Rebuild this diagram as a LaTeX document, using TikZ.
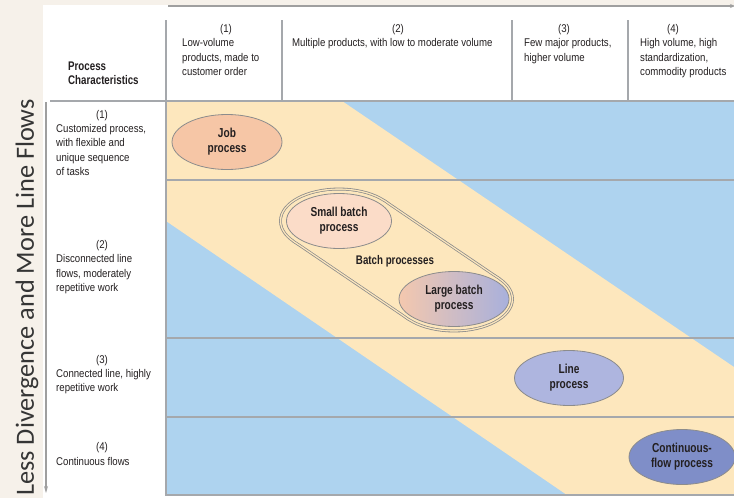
\documentclass[tikz,border=0pt]{standalone}
\usepackage{fontspec}
\setmainfont{Liberation Sans}
\newfontfamily\cnd[FakeStretch=0.86]{Liberation Sans}
\newfontfamily\cndb[FakeStretch=0.78]{Liberation Sans}
\newfontfamily\sidefont{Carlito}
\usetikzlibrary{shapes.geometric,arrows.meta}

\definecolor{paper}{HTML}{F6F1EA}
\definecolor{bandblue}{HTML}{AED3EF}
\definecolor{bandcream}{HTML}{FDE7BD}
\definecolor{gridgray}{HTML}{A5A8AC}
\definecolor{ink}{HTML}{231F20}
\definecolor{rimgray}{HTML}{8C8C8C}
\definecolor{jobfill}{HTML}{F6C6A6}
\definecolor{smallfill}{HTML}{FBDCC8}
\definecolor{largeL}{HTML}{F4C8AE}
\definecolor{largeR}{HTML}{A8B0DC}
\definecolor{linefill}{HTML}{AEB5DF}
\definecolor{contfill}{HTML}{7F8EC8}
\definecolor{sideink}{HTML}{353535}

% the three pieces whose union is the batch enclosure
\newcommand\batchhull[1]{%
  \path[#1] (339,221) ellipse [x radius=57, y radius=30.5];
  \path[#1] (454,299) ellipse [x radius=57, y radius=30.5];
  \path[#1] (383.75,202.11) -- (498.75,280.11) -- (409.25,317.89) -- (294.25,239.89) -- cycle;}

\tikzset{
  grid/.style={draw=gridgray, line width=1.3pt},
  txt/.style={inner sep=0pt, anchor=north west, align=left, text=ink,
    font=\cnd\fontsize{11.2}{14.2}\selectfont},
  num/.style={inner sep=0pt, anchor=base, text=ink,
    font=\cnd\fontsize{11.2}{14.2}\selectfont},
  head/.style={inner sep=0pt, anchor=north west, align=left, text=ink,
    font=\cndb\bfseries\fontsize{12.5}{14.2}\selectfont},
  proc/.style={ellipse, draw=rimgray, line width=0.8pt, inner sep=0pt,
    minimum height=55pt, align=center, text=ink,
    font=\cndb\bfseries\fontsize{13}{15}\selectfont},
  axisarrow/.style={draw=gray!75, line width=1.3pt},
}

\begin{document}
\begin{tikzpicture}[x=1pt,y=-1pt]
\useasboundingbox (0,0) rectangle (734,498);
\fill[paper] (0,0) rectangle (734,498);
\fill[white] (43,5) rectangle (734,498);

% body: blue field with the cream diagonal band
\fill[bandblue] (166,101) rectangle (734,495);
\fill[bandcream] (166,101) -- (342,101) -- (734,367) -- (734,495)
  -- (567,495) -- (166,221) -- cycle;

% grid
\draw[grid] (50,101) -- (734,101);
\draw[grid] (166,20) -- (166,495) -- (734,495);
\draw[grid] (282,20) -- (282,101);
\draw[grid] (512,20) -- (512,101);
\draw[grid] (628,20) -- (628,101);
\draw[grid] (166,180) -- (734,180);
\draw[grid] (166,338) -- (734,338);
\draw[grid] (166,417) -- (734,417);

% axis arrows
\coordinate (topL) at (168,6);
\coordinate (topR) at (735,6);
\draw[axisarrow, -{Stealth[length=5pt,width=4pt]}] (topL) -- (topR);
\coordinate (sideT) at (46,102);
\coordinate (sideB) at (46,493);
\draw[axisarrow, line width=1.1pt, -{Stealth[length=7pt,width=4pt]}] (sideT) -- (sideB);

\node[rotate=90, anchor=base west, inner sep=0pt, text=sideink,
  font=\sidefont\fontsize{26.3}{31}\selectfont] (sidelabel) at (34,496)
  {Less Divergence and More Line Flows};

% column headers
\node[head] (pc) at (68,60.3) {\strut Process\\Characteristics};
\node[num] (c1n) at (226,32.3) {(1)};
\node[txt] (c1) at (182,36.7) {\strut Low-volume\\products, made to\\customer order};
\node[num] (c2n) at (398,32.3) {(2)};
\node[txt] (c2) at (292,36.7) {\strut Multiple products, with low to moderate volume};
\node[num] (c3n) at (564,32.3) {(3)};
\node[txt] (c3) at (524,36.7) {\strut Few major products,\\higher volume};
\node[num] (c4n) at (673,32.3) {(4)};
\node[txt] (c4) at (640,36.7) {\strut High volume, high\\standardization,\\commodity products};

% row headers
\node[num] (r1n) at (102,118) {(1)};
\node[txt] (r1) at (56,122.6) {\strut Customized process,\\with flexible and\\unique sequence\\of tasks};
\node[num] (r2n) at (102,248.7) {(2)};
\node[txt] (r2) at (56,252.8) {\strut Disconnected line\\flows, moderately\\repetitive work};
\node[num] (r3n) at (102,363) {(3)};
\node[txt] (r3) at (56,367.2) {\strut Connected line, highly\\repetitive work};
\node[num] (r4n) at (102,450.7) {(4)};
\node[txt] (r4) at (56,455.2) {\strut Continuous flows};

% batch enclosure: double outline around both batch ellipses
\batchhull{draw=rimgray, line width=5.8pt, line join=round}
\batchhull{draw=bandcream, line width=4.2pt, line join=round}
\batchhull{draw=rimgray, line width=1.5pt, line join=round}
\batchhull{fill=bandcream}

% processes
\node[proc, minimum width=110pt, fill=jobfill] (job) at (227,142) {Job\\process};
\node[proc, minimum width=105pt, fill=smallfill] (small) at (339,221) {Small batch\\process};
\node[proc, minimum width=110pt, left color=largeL, right color=largeR] (large) at (454,299) {Large batch\\process};
\node[inner sep=0pt, text=ink, font=\cndb\bfseries\fontsize{12.5}{15}\selectfont] (batch) at (395,261) {Batch processes};
\node[proc, minimum width=109pt, fill=linefill] (line) at (569,378) {Line\\process};
\node[proc, minimum width=106pt, fill=contfill] (cont) at (682,457) {Continuous-\\flow process};
\end{tikzpicture}
\end{document}
